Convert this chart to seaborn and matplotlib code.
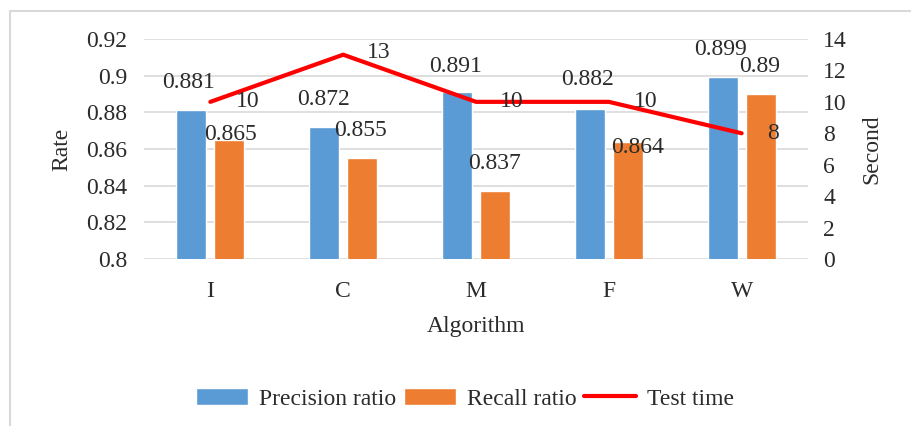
import numpy as np
import pandas as pd
import seaborn as sns
import matplotlib.pyplot as plt

# data
algorithms = ['I', 'C', 'M', 'F', 'W']
precision_ratio = [0.881, 0.872, 0.891, 0.882, 0.899]
recall_ratio = [0.865, 0.855, 0.837, 0.864, 0.89]
test_time = [10, 13, 10, 10, 8]
rate_ticks = [0.8, 0.82, 0.84, 0.86, 0.88, 0.9, 0.92]
second_ticks = [0, 2, 4, 6, 8, 10, 12, 14]

# label nudges in pixels (Excel moved a few of them)
prec_offsets = [(-3, 28), (-1, 27), (-1, 26), (-2, 29), (-2, 28)]
rec_offsets = [(1, 5), (-2, 28), (0, 28), (10, -6), (-1, 27)]
time_offsets = [(37, 0), (36, 2), (36, 0), (37, 0), (31, 0)]

sns.set_theme(style='white')
plt.rcParams['font.family'] = ['Liberation Serif', 'DejaVu Serif']
plt.rcParams['font.size'] = 17
txt_color = '#2b2b2b'

df = pd.DataFrame({'Algorithm': algorithms * 2,
                   'Rate': precision_ratio + recall_ratio,
                   'Metric': ['Precision ratio'] * 5 + ['Recall ratio'] * 5})

fig = plt.figure(figsize=(9.11, 4.26), dpi=100)
ax = fig.add_axes([0.158, 0.392, 0.729, 0.5165])

sns.barplot(data=df, x='Algorithm', y='Rate', hue='Metric',
            palette=['#5B9BD5', '#ED7D31'], saturation=1, width=0.572, gap=0.21,
            ax=ax, zorder=2)
ax.set_ylim(0.8, 0.92)
ax.set_xlim(-0.5, 4.5)
ax.set_yticks(rate_ticks, labels=[f'{t:g}' for t in rate_ticks])
ax.yaxis.grid(True, color='#d9d9d9', lw=1.2)
ax.set_axisbelow(True)
ax.tick_params(axis='y', length=0, pad=12, labelsize=17, labelcolor=txt_color)
ax.tick_params(axis='x', length=0, pad=16, labelsize=17, labelcolor=txt_color)
ax.set_xlabel('Algorithm', fontsize=17, labelpad=10, color=txt_color)
ax.set_ylabel('Rate', fontsize=17, labelpad=10, color=txt_color)
for s in ax.spines.values():
    s.set_visible(False)

for bars, offs in zip(ax.containers, [prec_offsets, rec_offsets]):
    for bar, (dx, dy) in zip(bars, offs):
        v = bar.get_height()
        ax.annotate(f'{v:g}', (bar.get_x() + bar.get_width() / 2, v),
                    xytext=(dx, dy), textcoords='offset pixels',
                    ha='center', va='center', fontsize=17, color=txt_color)

ax2 = ax.twinx()
sns.lineplot(x=np.arange(len(algorithms)), y=test_time, ax=ax2,
             color='#FF0000', lw=3, label='Test time')
ax2.set_ylim(0, 14)
ax2.set_yticks(second_ticks, labels=[str(t) for t in second_ticks])
ax2.tick_params(axis='y', length=0, pad=11, labelsize=17, labelcolor=txt_color)
ax2.set_ylabel('Second', fontsize=17, labelpad=10, color=txt_color)
for s in ax2.spines.values():
    s.set_visible(False)
for i, (t, (dx, dy)) in enumerate(zip(test_time, time_offsets)):
    ax2.annotate(str(t), (i, t), xytext=(dx, dy), textcoords='offset pixels',
                 ha='center', va='center', fontsize=17, color=txt_color)

h1, l1 = ax.get_legend_handles_labels()
h2, l2 = ax2.get_legend_handles_labels()
ax.get_legend().remove()
ax2.get_legend().remove()
leg = fig.legend(h1 + h2, l1 + l2, loc='center', bbox_to_anchor=(465 / 911, 1 - 399 / 426),
                 ncol=3, frameon=False, fontsize=17, handlelength=2.2,
                 handletextpad=0.45, columnspacing=0.35)
for t in leg.get_texts():
    t.set_color(txt_color)

# chart frame
fig.add_artist(plt.Rectangle((10 / 911, -0.1), 1.0, 1 - 11 / 426 + 0.1,
                             transform=fig.transFigure, fill=False,
                             ec='#d9d9d9', lw=1.5))

fig.savefig('out.png', dpi=100)
